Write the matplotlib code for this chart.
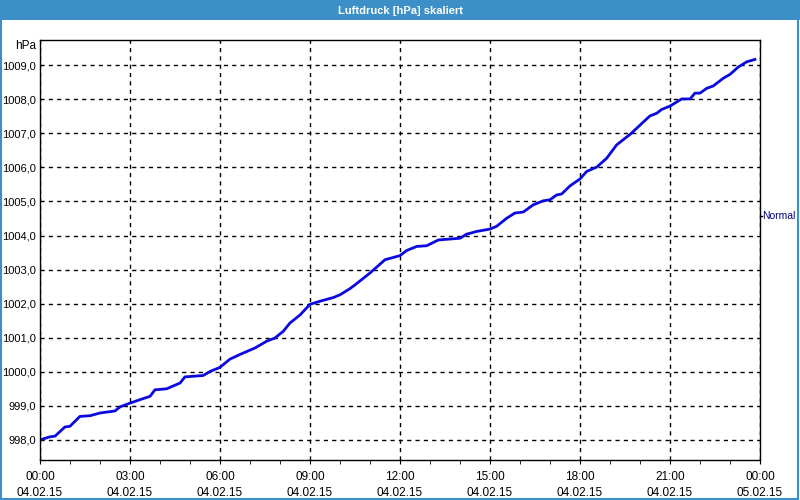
import matplotlib
matplotlib.use("Agg")
import matplotlib.pyplot as plt
import matplotlib.dates as mdates
from matplotlib.patches import Rectangle
from datetime import datetime, timedelta

# Messwerte (Stunden ab 04.02.15 00:00, Luftdruck in hPa)
hours = [0.0, 0.33, 0.5, 0.83, 1.0, 1.33, 1.67, 2.0, 2.5, 2.67, 3.0, 3.33, 3.67,
         3.83, 4.22, 4.67, 4.83, 5.44, 5.67, 6.0, 6.33, 6.67, 7.17, 7.56, 7.83,
         8.11, 8.33, 8.67, 9.0, 9.33, 9.78, 10.0, 10.33, 10.5, 11.0, 11.5, 11.67,
         12.0, 12.22, 12.56, 12.89, 13.28, 14.0, 14.22, 14.56, 15.0, 15.22, 15.56,
         15.83, 16.11, 16.44, 16.78, 17.0, 17.22, 17.39, 17.67, 18.0, 18.22, 18.56,
         18.89, 19.22, 19.67, 20.0, 20.33, 20.56, 20.72, 21.0, 21.39, 21.67, 21.83,
         22.0, 22.22, 22.44, 22.78, 23.0, 23.28, 23.56, 23.83]
pressure = [998.00, 998.09, 998.11, 998.38, 998.40, 998.69, 998.71, 998.79, 998.85,
            998.97, 999.08, 999.18, 999.28, 999.47, 999.50, 999.67, 999.85, 999.89,
            1000.01, 1000.13, 1000.37, 1000.51, 1000.70, 1000.90, 1000.99, 1001.19,
            1001.43, 1001.67, 1001.98, 1002.07, 1002.18, 1002.26, 1002.44, 1002.55,
            1002.90, 1003.29, 1003.33, 1003.41, 1003.56, 1003.68, 1003.70, 1003.87,
            1003.92, 1004.04, 1004.12, 1004.19, 1004.27, 1004.51, 1004.66, 1004.69,
            1004.90, 1005.02, 1005.05, 1005.19, 1005.22, 1005.46, 1005.66, 1005.88,
            1006.01, 1006.27, 1006.66, 1006.97, 1007.24, 1007.51, 1007.59, 1007.70,
            1007.80, 1008.01, 1008.01, 1008.18, 1008.18, 1008.32, 1008.39, 1008.62,
            1008.73, 1008.95, 1009.10, 1009.17]
y_ticks = [998, 999, 1000, 1001, 1002, 1003, 1004, 1005, 1006, 1007, 1008, 1009]

start = datetime(2015, 2, 4)
times = [start + timedelta(hours=h) for h in hours]

plt.rcParams['font.family'] = ['Liberation Sans', 'DejaVu Sans']
bar_color = '#3d8fc7'

fig = plt.figure(figsize=(8, 5), dpi=100)
fig.patch.set_facecolor('white')

# Titelleiste und Rahmen
fig.patches.append(Rectangle((0, 0.96), 1, 0.04, transform=fig.transFigure,
                             facecolor=bar_color, edgecolor='none', zorder=0))
fig.patches.append(Rectangle((0.001, 0.002), 0.997, 0.996, transform=fig.transFigure,
                             facecolor='none', edgecolor=bar_color, linewidth=1.5))
fig.text(0.5, 0.979, 'Luftdruck [hPa] skaliert', color='white', fontsize=8,
         fontweight='bold', ha='center', va='center')

ax = fig.add_axes([0.05, 0.08, 0.90, 0.84])
ax.plot(times, pressure, color='#0a0ae0', linewidth=2, solid_joinstyle='round')

ax.set_xlim(start, start + timedelta(hours=24))
ax.set_ylim(997.41, 1009.74)
ax.set_yticks(y_ticks)
ax.set_yticklabels([f'{v:.1f}'.replace('.', ',') for v in y_ticks])

ax.xaxis.set_major_locator(mdates.HourLocator(byhour=range(0, 24, 3)))
ax.xaxis.set_minor_locator(mdates.HourLocator())
ax.xaxis.set_major_formatter(mdates.DateFormatter('%H:%M\n%d.%m.%y'))

ax.grid(True, which='major', color='black', linestyle=(0, (3, 3)), linewidth=1)
ax.tick_params(axis='both', which='major', labelsize=8, length=3, color='black',
               direction='out')
ax.tick_params(axis='x', which='minor', length=3)
ax.tick_params(axis='y', length=0, pad=3)
ax.tick_params(axis='x', pad=5, labelsize=8.5)
for lbl in ax.get_xticklabels():
    lbl.set_linespacing(1.45)
for sp in ax.spines.values():
    sp.set_color('black')
    sp.set_linewidth(1)

fig.text(0.045, 0.908, 'hPa', fontsize=8.5, ha='right', va='center')
fig.text(0.953, 0.568, 'Normal', fontsize=7.5, ha='left', va='center', color='#000080')
fig.lines.append(plt.Line2D([0.951, 0.953], [0.568, 0.568], transform=fig.transFigure,
                            color='black', linewidth=1))

fig.savefig('out.png', dpi=100)
